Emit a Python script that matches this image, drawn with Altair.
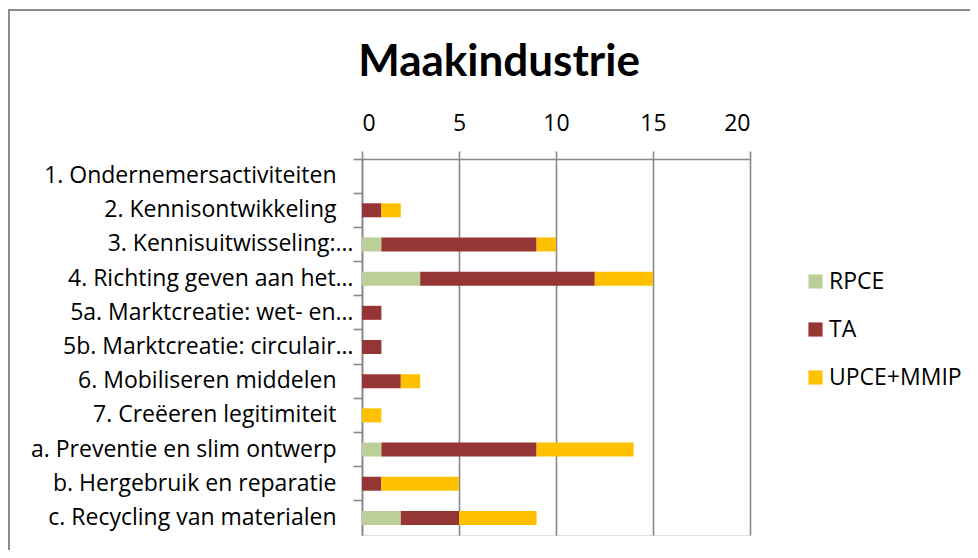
import altair as alt
import pandas as pd

categories = [
    "1. Ondernemersactiviteiten",
    "2. Kennisontwikkeling",
    "3. Kennisuitwisseling:…",
    "4. Richting geven aan het…",
    "5a. Marktcreatie: wet- en…",
    "5b. Marktcreatie: circulair…",
    "6. Mobiliseren middelen",
    "7. Creëeren legitimiteit",
    "a. Preventie en slim ontwerp",
    "b. Hergebruik en reparatie",
    "c. Recycling van materialen",
]
series = ["RPCE", "TA", "UPCE+MMIP"]
rpce = [0, 0, 1, 3, 0, 0, 0, 0, 1, 0, 2]
ta = [0, 1, 8, 9, 1, 1, 2, 0, 8, 1, 3]
upce_mmip = [0, 1, 1, 3, 0, 0, 1, 1, 5, 4, 4]
colors = ["#BCCF98", "#963634", "#FFC000"]
x_ticks = [0, 5, 10, 15, 20]

rows = []
for si, (name, vals) in enumerate(zip(series, [rpce, ta, upce_mmip])):
    for c, v in zip(categories, vals):
        if v:
            rows.append({"categorie": c, "reeks": name, "waarde": v, "volgorde": si})
df = pd.DataFrame(rows)

FONT = "Open Sans"
TFONT = "Lato"
GREY = "#898989"
# invisible trailing gap for the labels that are not cut off (as in the original)
GAP = "\u2800"

bars = alt.Chart(df).mark_bar(size=14).encode(
    x=alt.X(
        "waarde:Q",
        stack="zero",
        scale=alt.Scale(domain=[0, 20], nice=False),
        axis=alt.Axis(
            orient="top", values=x_ticks, title=None, grid=True,
            gridColor=GREY, gridWidth=1.6, domainColor=GREY, domainWidth=1.6,
            tickColor=GREY, tickWidth=1.6, tickSize=8, labelPadding=16,
            labelFont=FONT, labelFontSize=23, labelColor="black",
        ),
    ),
    y=alt.Y(
        "categorie:N",
        sort=categories,
        scale=alt.Scale(domain=categories, paddingInner=0, paddingOuter=0),
        axis=alt.Axis(
            title=None, bandPosition=0, domainColor=GREY, domainWidth=1.6,
            tickColor=GREY, tickWidth=1.6, tickSize=9, labelPadding=0,
            labelFont=FONT, labelFontSize=23, labelColor="black", labelLimit=400,
            labelExpr="indexof(datum.label, '…') >= 0 ? datum.label : datum.label + '" + GAP + "'",
        ),
    ),
    color=alt.Color(
        "reeks:N",
        scale=alt.Scale(domain=series, range=colors),
        legend=alt.Legend(
            title=None, orient="none", legendX=442, legendY=111,
            symbolType="square", symbolSize=200, symbolStrokeWidth=0,
            labelFont=FONT, labelFontSize=23, labelColor="black",
            rowPadding=24, symbolOffset=0, labelOffset=2,
        ),
    ),
    order=alt.Order("volgorde:Q"),
)

frame = alt.Chart(pd.DataFrame({"f": [0]})).mark_rect(
    fill=None, stroke="#8a8a8a", strokeWidth=2
).encode(
    x=alt.value(-353), x2=alt.value(630),
    y=alt.value(-149), y2=alt.value(420),
)

chart = alt.layer(frame, bars).properties(
    width=388,
    height=376,
    title=alt.TitleParams(
        "Maakindustrie", font=TFONT, fontSize=44, fontWeight="bold",
        color="black", anchor="middle", dx=-57, offset=0, dy=76,
    ),
    padding={"left": 354, "top": 151, "right": 220, "bottom": 15},
    autosize=alt.AutoSizeParams(type="none"),
).configure_view(stroke=None).configure(background="white")

chart.save("out.html", embed_options={"renderer": "svg", "actions": False})
